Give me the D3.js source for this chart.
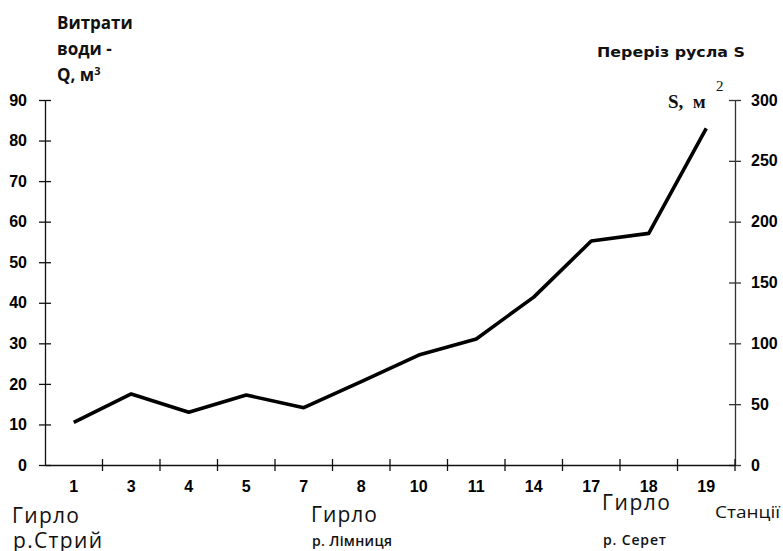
<!DOCTYPE html>
<html>
<head>
<meta charset="utf-8">
<script src="https://cdn.jsdelivr.net/npm/d3@7"></script>
<style>
  html, body { margin: 0; padding: 0; background: #fff; }
  svg { display: block; }
</style>
</head>
<body>
<svg id="chart" width="783" height="551"></svg>
<script>
// ---- data ----
const stations = ["1", "3", "4", "5", "7", "8", "10", "11", "14", "17", "18", "19"];
const sectionS = [35.1, 58.4, 43.3, 57.5, 47.1, 68.5, 90.4, 103.6, 138, 184.1, 190.4, 276.7];
const leftTicks = [0, 10, 20, 30, 40, 50, 60, 70, 80, 90];
const rightTicks = [0, 50, 100, 150, 200, 250, 300];

const svg = d3.select("#chart");
svg.append("rect").attr("width", 783).attr("height", 551).attr("fill", "#fff");

const m = { left: 45, right: 735, top: 100, bottom: 465 };

const x = d3.scaleBand().domain(stations).range([m.left, m.right]).padding(0);
const yQ = d3.scaleLinear().domain([0, 90]).range([m.bottom, m.top]);
const yS = d3.scaleLinear().domain([0, 300]).range([m.bottom, m.top]);

const tickFont = "'Liberation Sans', Arial, sans-serif";

// Left axis
const gL = svg.append("g").attr("transform", `translate(${m.left},0)`)
  .call(d3.axisLeft(yQ).tickValues(leftTicks).tickSize(6).tickSizeOuter(0).tickPadding(12));
gL.select(".domain").attr("stroke", "#111").attr("stroke-width", 1.3);
gL.selectAll(".tick line").attr("x1", -6).attr("x2", 6).attr("stroke", "#111").attr("stroke-width", 1.3);
gL.selectAll(".tick text").attr("font-family", tickFont).attr("font-weight", "bold")
  .attr("font-size", 16).attr("fill", "#000");

// Right axis
const gR = svg.append("g").attr("transform", `translate(${m.right},0)`)
  .call(d3.axisRight(yS).tickValues(rightTicks).tickSize(6).tickSizeOuter(0).tickPadding(10));
gR.select(".domain").attr("stroke", "#333").attr("stroke-width", 1.3);
gR.selectAll(".tick line").attr("x1", -6).attr("x2", 6).attr("stroke", "#333").attr("stroke-width", 1.3);
gR.selectAll(".tick text").attr("font-family", tickFont).attr("font-weight", "bold")
  .attr("font-size", 16).attr("fill", "#000");

// Bottom axis (labels at band centres, ticks at band boundaries)
const gB = svg.append("g").attr("transform", `translate(0,${m.bottom})`)
  .call(d3.axisBottom(x).tickSize(0).tickSizeOuter(0).tickPadding(22));
gB.select(".domain").attr("stroke", "#111").attr("stroke-width", 1.3);
gB.selectAll(".tick text").attr("font-family", tickFont).attr("font-weight", "bold")
  .attr("font-size", 16).attr("fill", "#000").attr("dy", "0.32em");
gB.selectAll(".bt").data(stations).enter().append("line")
  .attr("class", "bt")
  .attr("x1", d => x(d) + x.bandwidth()).attr("x2", d => x(d) + x.bandwidth())
  .attr("y1", -6).attr("y2", 6)
  .attr("stroke", "#111").attr("stroke-width", 1.3);

// Line
const line = d3.line()
  .x((d, i) => x(stations[i]) + x.bandwidth() / 2)
  .y(d => yS(d));
svg.append("path").datum(sectionS)
  .attr("d", line)
  .attr("fill", "none").attr("stroke", "#000").attr("stroke-width", 3.6)
  .attr("stroke-linejoin", "round").attr("stroke-linecap", "butt");

// Titles
const boldSans = "'Open Sans', 'Liberation Sans', Arial, sans-serif";
const tl = svg.append("g").attr("font-family", boldSans).attr("font-weight", "bold")
  .attr("font-size", 17).attr("fill", "#111");
tl.append("text").attr("x", 57).attr("y", 29).text("Витрати");
tl.append("text").attr("x", 57).attr("y", 55).text("води -");
const q = tl.append("text").attr("x", 57).attr("y", 81);
q.append("tspan").text("Q, м");
q.append("tspan").attr("font-size", 11).attr("dy", -6).text("3");

svg.append("text").attr("x", 597).attr("y", 57)
  .attr("font-family", "'DejaVu Sans', Verdana, sans-serif").attr("font-weight", "bold")
  .attr("font-size", 14).attr("textLength", 148).attr("lengthAdjust", "spacingAndGlyphs")
  .attr("fill", "#111").text("Переріз русла S");

svg.append("text").attr("x", 668).attr("y", 108)
  .attr("font-family", "'Liberation Serif', 'Times New Roman', serif").attr("font-weight", "bold")
  .attr("font-size", 19).attr("fill", "#111").attr("xml:space", "preserve").text("S,  м");
svg.append("text").attr("x", 716).attr("y", 91)
  .attr("font-family", "'Liberation Serif', 'Times New Roman', serif")
  .attr("font-size", 15).attr("fill", "#111").text("2");

// Bottom annotations
const ann = svg.append("g").attr("font-family", "'Open Sans', 'Liberation Sans', sans-serif").attr("fill", "#111");
ann.append("text").attr("x", 12).attr("y", 523).attr("font-size", 21).attr("textLength", 67).text("Гирло");
ann.append("text").attr("x", 13).attr("y", 548).attr("font-size", 21).attr("textLength", 89).text("р.Стрий");
ann.append("text").attr("x", 311).attr("y", 522).attr("font-size", 21).attr("textLength", 66).text("Гирло");
ann.append("text").attr("x", 312).attr("y", 546).attr("font-size", 14).attr("font-weight", 600).attr("textLength", 80).text("р. Лімниця");
ann.append("text").attr("x", 602).attr("y", 510).attr("font-size", 21).attr("textLength", 68).text("Гирло");
ann.append("text").attr("x", 603).attr("y", 545).attr("font-size", 14).attr("font-weight", 600).attr("textLength", 63).text("р. Серет");
ann.append("text").attr("x", 715).attr("y", 518).attr("font-size", 16).attr("textLength", 65).attr("lengthAdjust", "spacingAndGlyphs").text("Станції");
</script>
</body>
</html>
